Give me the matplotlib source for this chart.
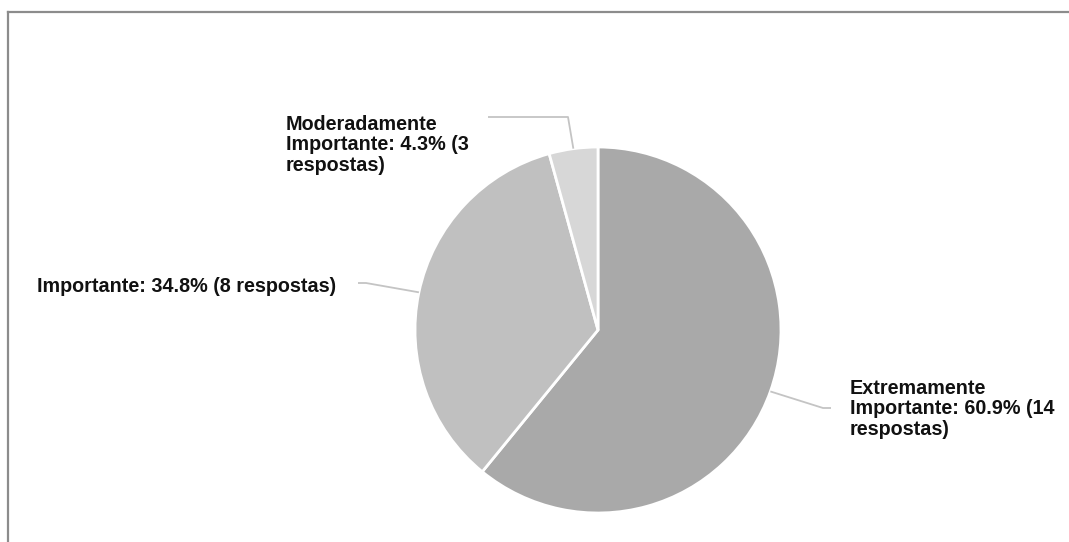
import numpy as np
import matplotlib
matplotlib.use("Agg")
import matplotlib.pyplot as plt

# respostas por categoria (percentuais da pesquisa)
categorias = ["Extremamente Importante", "Importante", "Moderadamente Importante"]
percentuais = [60.9, 34.8, 4.3]
rotulos = [
    "Extremamente\nImportante: 60.9% (14\nrespostas)",
    "Importante: 34.8% (8 respostas)",
    "Moderadamente\nImportante: 4.3% (3\nrespostas)",
]
cores = ["#a9a9a9", "#c0c0c0", "#d7d7d7"]

W, H = 1069, 542
plt.rcParams['font.family'] = ['Liberation Sans', 'DejaVu Sans']

fig = plt.figure(figsize=(W / 100, H / 100), dpi=100)
ax = fig.add_axes([0, 0, 1, 1])

cx, cy, r = 598, H - 330, 183
wedges, _ = ax.pie(percentuais, colors=cores, startangle=90, counterclock=False,
                   center=(cx, cy), radius=r, frame=True,
                   wedgeprops=dict(edgecolor='white', linewidth=2, joinstyle='round'))
ax.set_xlim(0, W)
ax.set_ylim(0, H)
ax.set_aspect('equal')
ax.axis('off')

# linhas-guia: (ponto de dobra, fim do texto) por fatia
guias = [
    ((823, 408), (831, 408)),
    ((366, 283), (358, 283)),
    ((568, 117), (488, 117)),
]
pos_texto = [(850, 409), (37, 287), (286, 145)]

for w, (dobra, fim), (tx, ty), txt in zip(wedges, guias, pos_texto, rotulos):
    ang = np.deg2rad((w.theta1 + w.theta2) / 2)
    px, py = cx + r * np.cos(ang), cy + r * np.sin(ang)
    xs = [px, dobra[0], fim[0]]
    ys = [py, H - dobra[1], H - fim[1]]
    ax.plot(xs, ys, color='#c4c4c4', lw=1.3, solid_capstyle='butt')
    ax.text(tx, H - ty, txt, ha='left', va='center', fontsize=14.2,
            fontweight='bold', color='#111111', linespacing=1.1)

# moldura parcial
fig.add_artist(plt.Line2D([8 / W, 1], [1 - 12 / H, 1 - 12 / H], color='#8c8c8c', lw=1.6))
fig.add_artist(plt.Line2D([8 / W, 8 / W], [0, 1 - 12 / H], color='#8c8c8c', lw=1.6))

fig.savefig('out.png', dpi=100, facecolor='white')
